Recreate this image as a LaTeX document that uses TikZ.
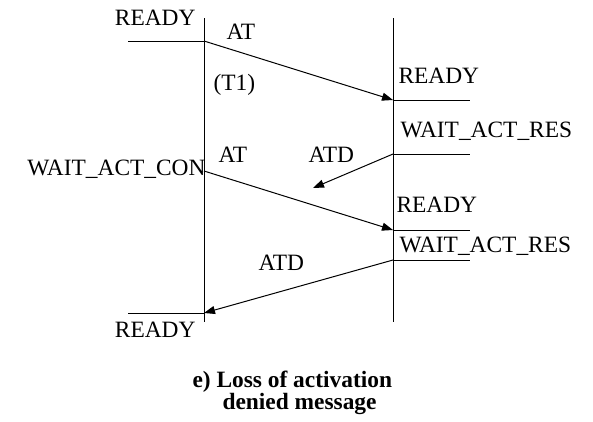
\documentclass[tikz,border=0pt]{standalone}
\usepackage{fontspec}
\setmainfont{Liberation Serif}
\usetikzlibrary{arrows.meta}

\begin{document}
\begin{tikzpicture}[x=1pt, y=-1pt, line width=1pt,
  lbl/.style={inner sep=0pt, font=\fontsize{23.4}{27}\selectfont},
  msg/.style={-{Triangle[length=11pt,width=8pt]}},
  caption/.style={inner sep=0pt, font=\fontsize{23.4}{27}\selectfont\bfseries}]
\useasboundingbox (0,0) rectangle (593,421);

% the two lifelines
\draw[black] (204,18) coordinate (a top) -- (204,322) coordinate (a bot);
\draw[black] (393,18) coordinate (b top) -- (393,322) coordinate (b bot);

% states on the left side
\coordinate (a ready) at (204,41);
\coordinate (a con) at (204,171);
\coordinate (a end) at (204,313);
\draw[black] (128,41) -- (a ready);
\draw[black] (128,313) -- (204,313);
\node[lbl, anchor=base east] (ready1) at (196,25) {READY};
\node[lbl, anchor=base east] (waitcon) at (206,175) {WAIT\_ACT\_CON};
\node[lbl, anchor=base east] (ready4) at (196,337) {READY};

% states on the right side
\foreach \y/\n in {100/b ready, 154/b res, 230/b ready2, 260/b res2}{
  \coordinate (\n) at (393,\y);
  \draw[black] (\n) -- ++(77,0);
}
\node[lbl, anchor=base west] (ready2) at (398,83) {READY};
\node[lbl, anchor=base west] (waitres1) at (400,137) {WAIT\_ACT\_RES};
\node[lbl, anchor=base west] (ready3) at (396,212) {READY};
\node[lbl, anchor=base west] (waitres2) at (399,252) {WAIT\_ACT\_RES};

% messages
\coordinate (lost) at (313,188);
\draw[black, msg] (a ready) -- (b ready);
\draw[black, msg] (b res) -- (lost);
\draw[black, msg] (a con) -- (b ready2);
\draw[black, msg] (b res2) -- (a end);
\node[lbl, anchor=base west] (at1) at (226,39) {AT};
\node[lbl, anchor=base west] (t1) at (213,90) {(T1)};
\node[lbl, anchor=base west] (atd1) at (308,162) {ATD};
\node[lbl, anchor=base west] (at2) at (218,162) {AT};
\node[lbl, anchor=base west] (atd2) at (258,270) {ATD};

% caption
\node[caption, anchor=base west] (cap1) at (192,387) {e) Loss of activation};
\node[caption, anchor=base west] (cap2) at (222,409) {denied message};
\end{tikzpicture}
\end{document}
